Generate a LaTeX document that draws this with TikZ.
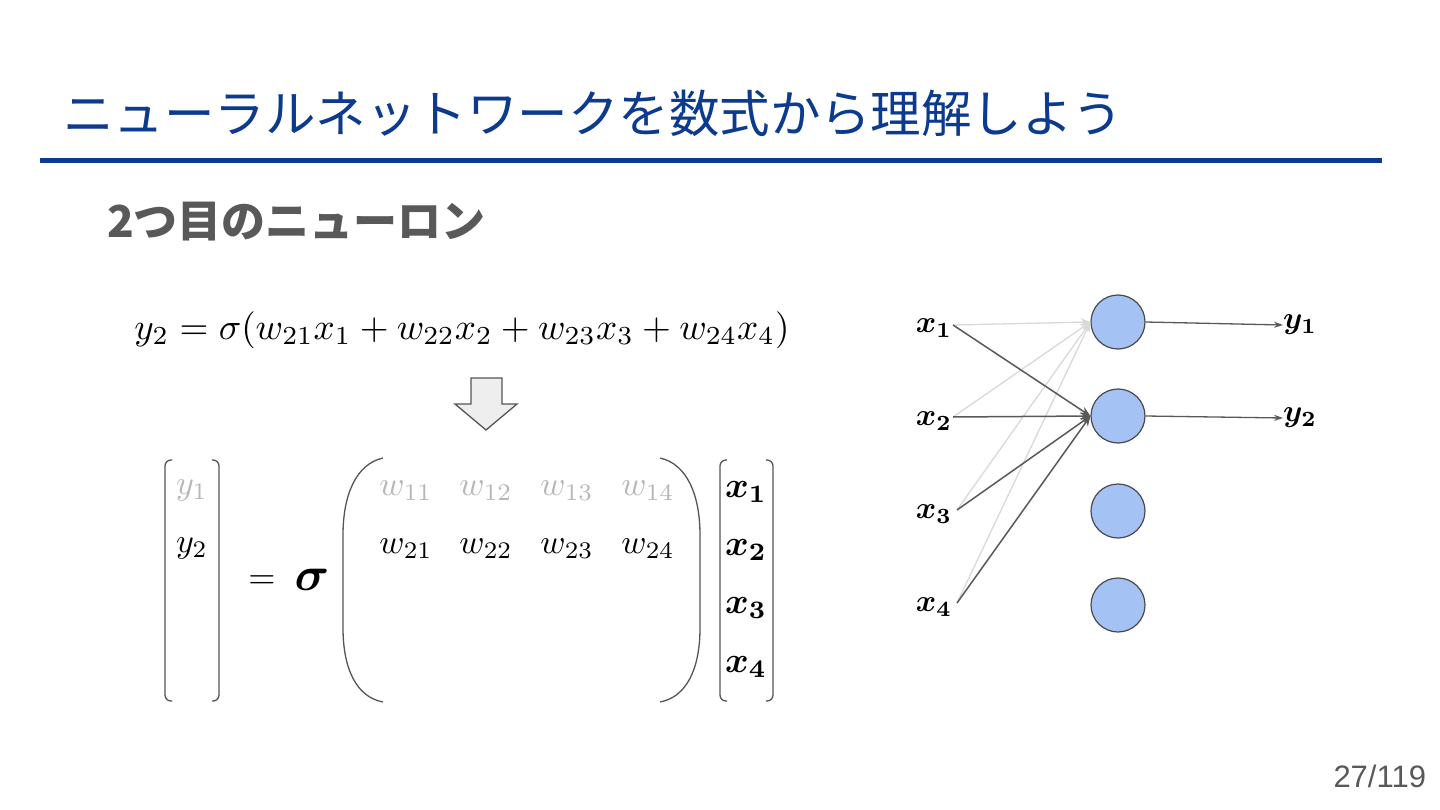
\documentclass[tikz,border=0pt]{standalone}
\usepackage{fontspec}
\usepackage{amsmath}
\usetikzlibrary{arrows.meta}
\newfontfamily\jpfont{Noto Sans CJK JP}
\newfontfamily\pgfont{Liberation Sans}
\newcommand{\Msc}[2]{\scalebox{#1}{$#2$}}
\newcommand{\MscB}[2]{\scalebox{#1}{\boldmath$#2$}}
\definecolor{titleblue}{HTML}{0B3A8F}
\definecolor{subgrey}{HTML}{595959}
\definecolor{lightent}{HTML}{B7B7B7}
\definecolor{bracket}{HTML}{555555}
\definecolor{neuronfill}{HTML}{A4C2F4}
\definecolor{neuronedge}{HTML}{4A4A4A}
\definecolor{darkedge}{HTML}{595959}
\definecolor{lightedge}{HTML}{D9D9D9}
\definecolor{arrowfill}{HTML}{EEEEEE}
\tikzset{
  txt/.style={inner sep=0pt, outer sep=0pt},
  brk/.style={draw=bracket, line width=1.3pt, rounded corners=6pt},
  paren/.style={draw=bracket, line width=1.3pt},
  neuron/.style={circle, draw=neuronedge, fill=neuronfill, line width=1.2pt, minimum size=54pt, inner sep=0pt},
  darkarr/.style={draw=darkedge, line width=1.5pt, -{Stealth[length=10pt,width=8pt]}},
  lightarr/.style={draw=lightedge, line width=1.3pt, -{Stealth[length=10pt,width=8pt]}},
  outarr/.style={draw=darkedge, line width=1.3pt, -{Stealth[length=9pt,width=6pt]}},
  mentry/.style={txt},
  lentry/.style={mentry, text=lightent},
}
\begin{document}
\begin{tikzpicture}[x=1pt,y=-1pt]
\useasboundingbox[fill=white] (0,0) rectangle (1440,810);

% title
\node[txt, anchor=west, text=titleblue, font=\jpfont\fontsize{50.5}{60}\selectfont] (title) at (63,113) {ニューラルネットワークを数式から理解しよう};
\draw[titleblue, line width=5pt] (40,161) -- (1382,161);

% subtitle
\node[txt, anchor=west, text=subgrey, font=\jpfont\bfseries\fontsize{44}{52}\selectfont] (sub) at (107,222) {2つ目のニューロン};

% equation
\node[txt] (eq) at (462,330) {\resizebox{655pt}{!}{$y_2 = \sigma(w_{21}x_1 + w_{22}x_2 + w_{23}x_3 + w_{24}x_4)$}};

% down arrow
\draw[draw=bracket, fill=arrowfill, line width=1.3pt] (471,378) -- (502,378) -- (502,404) -- (517,404) -- (486,430) -- (455,404) -- (471,404) -- cycle;

% left vector
\draw[brk] (172,460) -- (165,460) -- (165,701) -- (172,701);
\draw[brk] (212,460) -- (219,460) -- (219,701) -- (212,701);
\node[lentry] (y1v) at (192,490) {\Msc{3.4}{y_1}};
\node[mentry] (y2v) at (192,548) {\Msc{3.4}{y_2}};

% = sigma
\node[txt] (eqs) at (262,582) {\Msc{3.5}{=}};
\node[txt] (sig) at (312,580) {\MscB{4.8}{\sigma}};

% big parentheses
\draw[paren] (383,458) .. controls (356,464) and (343,495) .. (343,535) -- (343,628) .. controls (343,668) and (356,697) .. (383,702);
\draw[paren] (660,458) .. controls (687,464) and (700,495) .. (700,535) -- (700,628) .. controls (700,668) and (687,697) .. (660,702);

% matrix entries
\node[lentry] (w11) at (406,491) {\Msc{3.4}{w_{11}}};
\node[lentry] (w12) at (486,491) {\Msc{3.4}{w_{12}}};
\node[lentry] (w13) at (567,491) {\Msc{3.4}{w_{13}}};
\node[lentry] (w14) at (648,491) {\Msc{3.4}{w_{14}}};
\node[mentry] (w21) at (406,549) {\Msc{3.4}{w_{21}}};
\node[mentry] (w22) at (486,549) {\Msc{3.4}{w_{22}}};
\node[mentry] (w23) at (567,549) {\Msc{3.4}{w_{23}}};
\node[mentry] (w24) at (648,549) {\Msc{3.4}{w_{24}}};

% right vector
\draw[brk] (727,460) -- (720,460) -- (720,701) -- (727,701);
\draw[brk] (766,460) -- (773,460) -- (773,701) -- (766,701);
\node[txt] (xv1) at (746,492) {\MscB{3.6}{x_1}};
\node[txt] (xv2) at (746,550) {\MscB{3.6}{x_2}};
\node[txt] (xv3) at (746,608) {\MscB{3.6}{x_3}};
\node[txt] (xv4) at (746,667) {\MscB{3.6}{x_4}};

% network
\node[neuron] (n1) at (1118,322) {};
\node[neuron] (n2) at (1118,416) {};
\node[neuron] (n3) at (1118,511) {};
\node[neuron] (n4) at (1118,605) {};

\node[txt] (x1) at (934,328) {\MscB{3.1}{x_1}};
\node[txt] (x2) at (934,421) {\MscB{3.1}{x_2}};
\node[txt] (x3) at (934,514) {\MscB{3.1}{x_3}};
\node[txt] (x4) at (934,607) {\MscB{3.1}{x_4}};
\coordinate (x1o) at (953,325);
\coordinate (x2o) at (953,417);
\coordinate (x3o) at (957,510);
\coordinate (x4o) at (957,603);

\draw[lightarr] (x1o) -- (n1.west);
\draw[lightarr] (x2o) -- (n1.west);
\draw[lightarr] (x3o) -- (n1.west);
\draw[lightarr] (x4o) -- (n1.west);
\draw[darkarr] (x1o) -- (n2.west);
\draw[darkarr] (x2o) -- (n2.west);
\draw[darkarr] (x3o) -- (n2.west);
\draw[darkarr] (x4o) -- (n2.west);

\node[txt] (y1) at (1300,325) {\MscB{3.1}{y_1}};
\node[txt] (y2) at (1300,418) {\MscB{3.1}{y_2}};
\draw[outarr] (n1.east) -- (y1.west);
\draw[outarr] (n2.east) -- (y2.west);

% page number
\node[txt, anchor=east, text=subgrey, font=\pgfont\fontsize{31}{36}\selectfont] (pg) at (1426,776) {27/119};
\end{tikzpicture}
\end{document}
